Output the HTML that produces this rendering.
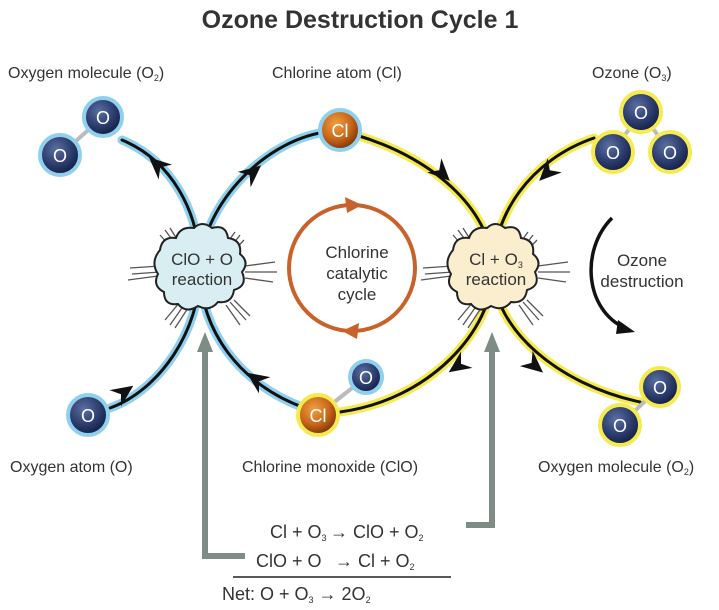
<!DOCTYPE html>
<html><head><meta charset="utf-8"><style>
html,body{margin:0;padding:0;background:#fff;}
svg{display:block;font-family:"Liberation Sans","DejaVu Sans",sans-serif;}
</style></head><body>
<svg width="719" height="610" viewBox="0 0 719 610" xmlns="http://www.w3.org/2000/svg">
<defs>
<radialGradient id="gb" cx="40%" cy="35%" r="65%"><stop offset="0" stop-color="#5a6fa0"/><stop offset="0.6" stop-color="#2c3d6e"/><stop offset="1" stop-color="#141f44"/></radialGradient>
<radialGradient id="go" cx="40%" cy="35%" r="65%"><stop offset="0" stop-color="#f0a040"/><stop offset="0.6" stop-color="#c8651a"/><stop offset="1" stop-color="#7a3508"/></radialGradient>
<polygon id="ah" points="4,0 -18,-10 -11,0 -18,10" fill="#111"/>
</defs>
<text x="360" y="28" text-anchor="middle" font-size="25" font-weight="bold" fill="#333">Ozone Destruction Cycle 1</text>

<g font-size="16" fill="#333">
<text x="8" y="78">Oxygen molecule (O<tspan font-size="9" dy="3">2</tspan><tspan dy="-3">)</tspan></text>
<text x="272" y="78">Chlorine atom (Cl)</text>
<text x="592" y="78">Ozone (O<tspan font-size="9" dy="3">3</tspan><tspan dy="-3">)</tspan></text>
<text x="10" y="472">Oxygen atom (O)</text>
<text x="242" y="472">Chlorine monoxide (ClO)</text>
<text x="538" y="472">Oxygen molecule (O<tspan font-size="9" dy="3">2</tspan><tspan dy="-3">)</tspan></text>
</g>

<g fill="none" stroke-linecap="round">
<path d="M122,140 C170,160 200,210 200,270 C200,330 240,385 305,408" stroke="#8fd0ee" stroke-width="9"/>
<path d="M325,132 C260,142 200,210 200,270 C200,330 160,390 110,408" stroke="#8fd0ee" stroke-width="9"/>
<path d="M122,140 C170,160 200,210 200,270 C200,330 240,385 305,408" stroke="#111" stroke-width="3"/>
<path d="M325,132 C260,142 200,210 200,270 C200,330 160,390 110,408" stroke="#111" stroke-width="3"/>
<path d="M356,135 C440,160 493,215 493,270 C493,330 560,385 640,402" stroke="#f5ea50" stroke-width="9"/>
<path d="M594,138 C530,160 493,215 493,270 C493,330 430,400 340,412" stroke="#f5ea50" stroke-width="9"/>
<path d="M356,135 C440,160 493,215 493,270 C493,330 560,385 640,402" stroke="#111" stroke-width="3"/>
<path d="M594,138 C530,160 493,215 493,270 C493,330 430,400 340,412" stroke="#111" stroke-width="3"/>
</g>
<use href="#ah" transform="translate(152,160) rotate(-138)"/>
<use href="#ah" transform="translate(258,168) rotate(-40)"/>
<use href="#ah" transform="translate(250,375) rotate(-145)"/>
<use href="#ah" transform="translate(130,388) rotate(-35)"/>
<use href="#ah" transform="translate(447,178) rotate(45)"/>
<use href="#ah" transform="translate(542,178) rotate(135)"/>
<use href="#ah" transform="translate(452,370) rotate(145)"/>
<use href="#ah" transform="translate(540,370) rotate(40)"/>

<g stroke="#555" stroke-width="1.3">
<path d="M130,268 L160,266 M132,274 L160,272 M128,280 L158,276 M245,266 L275,262 M245,272 L277,272 M245,278 L273,282 M160,235 L175,252 M165,230 L179,249 M170,228 L182,247 M235,232 L222,250 M240,235 L227,252 M244,240 L230,255 M165,320 L180,302 M170,325 L184,305 M175,328 L188,308 M226,305 L240,325 M230,302 L246,320 M234,300 L250,316"/>
<path d="M423,268 L453,266 M425,274 L453,272 M421,280 L451,276 M538,266 L568,262 M538,272 L570,272 M538,278 L566,282 M453,235 L468,252 M458,230 L472,249 M463,228 L475,247 M528,232 L515,250 M533,235 L520,252 M537,240 L523,255 M458,320 L473,302 M463,325 L477,305 M468,328 L481,308 M519,305 L533,325 M523,302 L539,320 M527,300 L543,316"/>
</g>
<g stroke="#222" stroke-width="2">
<path fill="#d8eef3" d="M160,250 q2,-14 16,-12 q4,-12 18,-10 q8,-8 18,0 q14,-4 16,10 q14,2 12,16 q10,8 2,18 q6,14 -8,18 q-2,14 -16,12 q-8,10 -20,4 q-12,8 -20,-2 q-14,2 -14,-12 q-12,-6 -6,-18 q-8,-12 2,-24z"/>
<path fill="#fbeecf" d="M453,250 q2,-14 16,-12 q4,-12 18,-10 q8,-8 18,0 q14,-4 16,10 q14,2 12,16 q10,8 2,18 q6,14 -8,18 q-2,14 -16,12 q-8,10 -20,4 q-12,8 -20,-2 q-14,2 -14,-12 q-12,-6 -6,-18 q-8,-12 2,-24z"/>
</g>
<g font-size="17" fill="#333" text-anchor="middle">
<text x="202" y="265">ClO + O</text>
<text x="202" y="285">reaction</text>
<text x="496" y="265">Cl + O<tspan font-size="9" dy="3">3</tspan></text>
<text x="496" y="285">reaction</text>
<text x="357" y="258">Chlorine</text>
<text x="357" y="279">catalytic</text>
<text x="357" y="300">cycle</text>
<text x="642" y="266">Ozone</text>
<text x="642" y="287">destruction</text>
</g>

<circle cx="352" cy="268" r="63" fill="none" stroke="#c9622a" stroke-width="4"/>
<polygon points="362,205 345,197 347,213" fill="#c9622a"/>
<polygon points="342,331 359,323 357,339" fill="#c9622a"/>
<path d="M612,218 C580,250 585,310 625,328" fill="none" stroke="#111" stroke-width="3.5"/>
<polygon points="635,332 618,320 616,334" fill="#111"/>

<g fill="none" stroke="#7d8c85" stroke-width="6">
<path d="M245,556 L205,556 L205,350"/>
<path d="M466,525 L492,525 L492,350"/>
</g>
<polygon points="205,332 197,352 213,352" fill="#7d8c85"/>
<polygon points="492,332 484,352 500,352" fill="#7d8c85"/>

<g stroke="#bbb" stroke-width="4"><line x1="103" y1="117" x2="60" y2="155"/><line x1="641" y1="112" x2="613" y2="152"/><line x1="641" y1="112" x2="670" y2="152"/><line x1="318" y1="415" x2="366" y2="377"/><line x1="660" y1="387" x2="620" y2="425"/></g>
<g stroke-width="4">
<circle cx="103" cy="117" r="19" fill="url(#gb)" stroke="#8fd0ee"/>
<circle cx="60" cy="155" r="20" fill="url(#gb)" stroke="#8fd0ee"/>
<circle cx="88" cy="415" r="20" fill="url(#gb)" stroke="#8fd0ee"/>
<circle cx="340" cy="130" r="20" fill="url(#go)" stroke="#8fd0ee"/>
<circle cx="366" cy="377" r="16" fill="url(#gb)" stroke="#8fd0ee"/>
<circle cx="318" cy="415" r="20" fill="url(#go)" stroke="#f5ea50"/>
<circle cx="641" cy="112" r="20" fill="url(#gb)" stroke="#f5ea50"/>
<circle cx="613" cy="152" r="20" fill="url(#gb)" stroke="#f5ea50"/>
<circle cx="670" cy="152" r="20" fill="url(#gb)" stroke="#f5ea50"/>
<circle cx="660" cy="387" r="19" fill="url(#gb)" stroke="#f5ea50"/>
<circle cx="620" cy="425" r="20" fill="url(#gb)" stroke="#f5ea50"/>
</g>
<g fill="#fff" font-size="18" text-anchor="middle">
<text x="103" y="124">O</text><text x="60" y="162">O</text><text x="88" y="422">O</text>
<text x="340" y="137">Cl</text><text x="366" y="384">O</text><text x="318" y="422">Cl</text>
<text x="641" y="119">O</text><text x="613" y="159">O</text><text x="670" y="159">O</text>
<text x="660" y="394">O</text><text x="620" y="432">O</text>
</g>

<g font-size="18" fill="#333">
<text x="270" y="538">Cl + O<tspan font-size="9" dy="3">3</tspan><tspan dy="-3" x="330">→ ClO + O</tspan><tspan font-size="9" dy="3">2</tspan></text>
<text x="256" y="567">ClO + O<tspan x="335">→ Cl + O</tspan><tspan font-size="9" dy="3">2</tspan></text>
<text x="222" y="600">Net:  O + O<tspan font-size="9" dy="3">3</tspan><tspan dy="-3"> → 2O</tspan><tspan font-size="9" dy="3">2</tspan></text>
</g>
<line x1="233" y1="577" x2="451" y2="577" stroke="#222" stroke-width="1.5"/>
</svg>
</body></html>
